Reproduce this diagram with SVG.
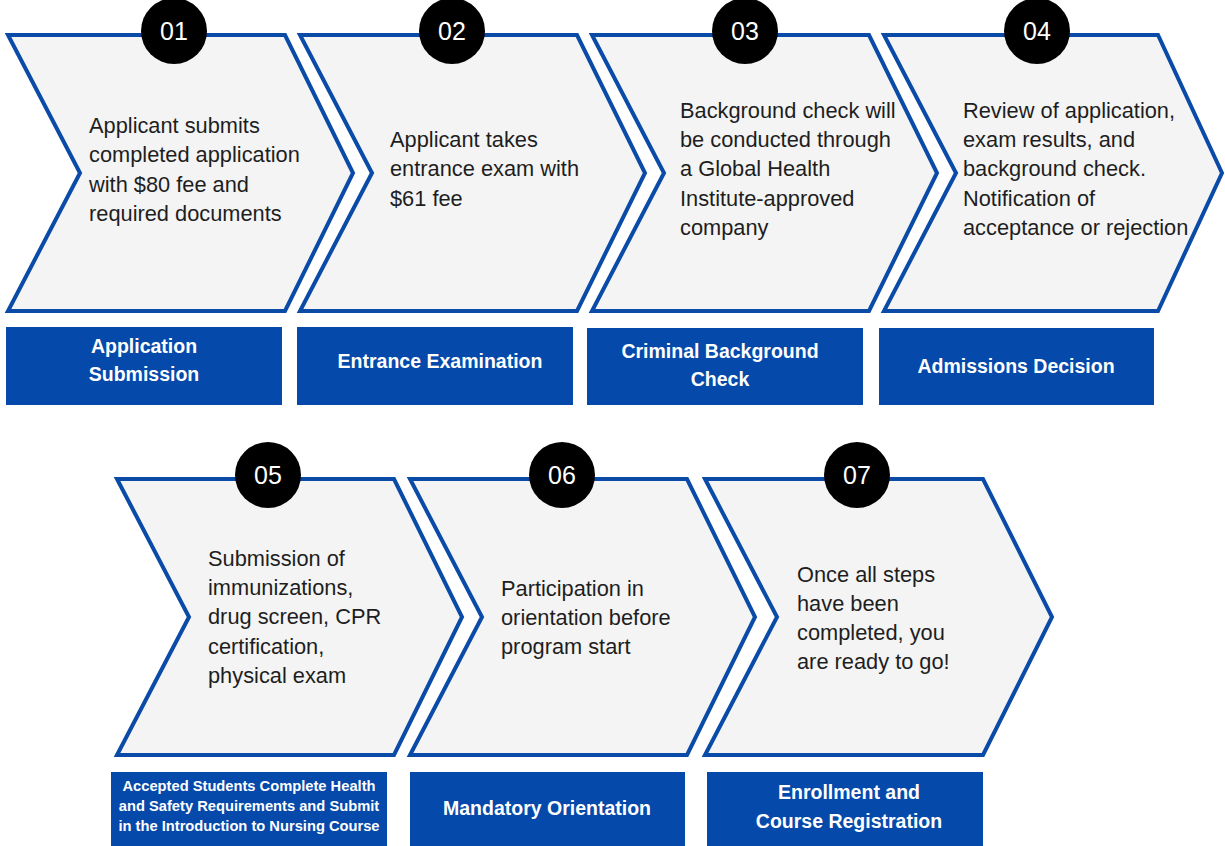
<svg xmlns="http://www.w3.org/2000/svg" width="1225" height="846" viewBox="0 0 1225 846">
<style>
.chev{fill:#f4f4f4;stroke:#0b4ba8;stroke-width:4;stroke-linejoin:miter}
.num{fill:#000}
.numt{fill:#fff;font-family:"Liberation Sans",Arial,sans-serif;font-size:25px;text-anchor:middle}
.body{fill:#1e1e1e;font-family:"Liberation Sans",Arial,sans-serif;font-size:21.8px}
.lab{fill:#0549ab}
.labt{fill:#fff;font-family:"Liberation Sans",Arial,sans-serif;font-size:19.5px;font-weight:bold;text-anchor:middle}
.labs{fill:#fff;font-family:"Liberation Sans",Arial,sans-serif;font-size:14.7px;font-weight:bold;text-anchor:middle}
</style>
<rect width="1225" height="846" fill="#fff"/>
<g id="connectors"/>
<g id="step1">
<polygon class="chev" points="8,35 285,35 353,173 285,311 8,311 80,173"/>
<circle class="num" cx="174" cy="31" r="33"/>
<text class="numt" x="174" y="40">01</text>
<text class="body" x="89" y="133">Applicant submits</text>
<text class="body" x="89" y="162">completed application</text>
<text class="body" x="89" y="192">with $80 fee and</text>
<text class="body" x="89" y="221">required documents</text>
<rect class="lab" x="6" y="327" width="276" height="78"/>
<text class="labt" x="144" y="353">Application</text>
<text class="labt" x="144" y="381">Submission</text>
</g>
<g id="step2">
<polygon class="chev" points="300,35 577,35 645,173 577,311 300,311 372,173"/>
<circle class="num" cx="452" cy="31" r="33"/>
<text class="numt" x="452" y="40">02</text>
<text class="body" x="390" y="147">Applicant takes</text>
<text class="body" x="390" y="176">entrance exam with</text>
<text class="body" x="390" y="206">$61 fee</text>
<rect class="lab" x="297" y="327" width="276" height="78"/>
<text class="labt" x="440" y="368">Entrance Examination</text>
</g>
<g id="step3">
<polygon class="chev" points="592,35 869,35 937,173 869,311 592,311 664,173"/>
<circle class="num" cx="745" cy="31" r="33"/>
<text class="numt" x="745" y="40">03</text>
<text class="body" x="680" y="118">Background check will</text>
<text class="body" x="680" y="147">be conducted through</text>
<text class="body" x="680" y="176">a Global Health</text>
<text class="body" x="680" y="206">Institute-approved</text>
<text class="body" x="680" y="235">company</text>
<rect class="lab" x="587" y="328" width="276" height="77"/>
<text class="labt" x="720" y="358">Criminal Background</text>
<text class="labt" x="720" y="386">Check</text>
</g>
<g id="step4">
<polygon class="chev" points="884,35 1158,35 1222,173 1158,311 884,311 956,173"/>
<circle class="num" cx="1037" cy="31" r="33"/>
<text class="numt" x="1037" y="40">04</text>
<text class="body" x="963" y="118">Review of application,</text>
<text class="body" x="963" y="147">exam results, and</text>
<text class="body" x="963" y="176">background check.</text>
<text class="body" x="963" y="206">Notification of</text>
<text class="body" x="963" y="235">acceptance or rejection</text>
<rect class="lab" x="879" y="328" width="275" height="77"/>
<text class="labt" x="1016" y="373">Admissions Decision</text>
</g>
<g id="step5">
<polygon class="chev" points="117,479 394,479 462,617 394,755 117,755 189,617"/>
<circle class="num" cx="268" cy="475" r="33"/>
<text class="numt" x="268" y="484">05</text>
<text class="body" x="208" y="566">Submission of</text>
<text class="body" x="208" y="595">immunizations,</text>
<text class="body" x="208" y="624">drug screen, CPR</text>
<text class="body" x="208" y="654">certification,</text>
<text class="body" x="208" y="683">physical exam</text>
<rect class="lab" x="111" y="772" width="276" height="74"/>
<text class="labs" x="249" y="791">Accepted Students Complete Health</text>
<text class="labs" x="249" y="811">and Safety Requirements and Submit</text>
<text class="labs" x="249" y="831">in the Introduction to Nursing Course</text>
</g>
<g id="step6">
<polygon class="chev" points="410,479 687,479 755,617 687,755 410,755 482,617"/>
<circle class="num" cx="562" cy="475" r="33"/>
<text class="numt" x="562" y="484">06</text>
<text class="body" x="501" y="596">Participation in</text>
<text class="body" x="501" y="625">orientation before</text>
<text class="body" x="501" y="654">program start</text>
<rect class="lab" x="410" y="772" width="275" height="74"/>
<text class="labt" x="547" y="815">Mandatory Orientation</text>
</g>
<g id="step7">
<polygon class="chev" points="705,479 983,479 1052,617 983,755 705,755 777,617"/>
<circle class="num" cx="857" cy="475" r="33"/>
<text class="numt" x="857" y="484">07</text>
<text class="body" x="797" y="582">Once all steps</text>
<text class="body" x="797" y="611">have been</text>
<text class="body" x="797" y="640">completed, you</text>
<text class="body" x="797" y="669">are ready to go!</text>
<rect class="lab" x="707" y="772" width="276" height="74"/>
<text class="labt" x="849" y="799">Enrollment and</text>
<text class="labt" x="849" y="828">Course Registration</text>
</g>
</svg>
